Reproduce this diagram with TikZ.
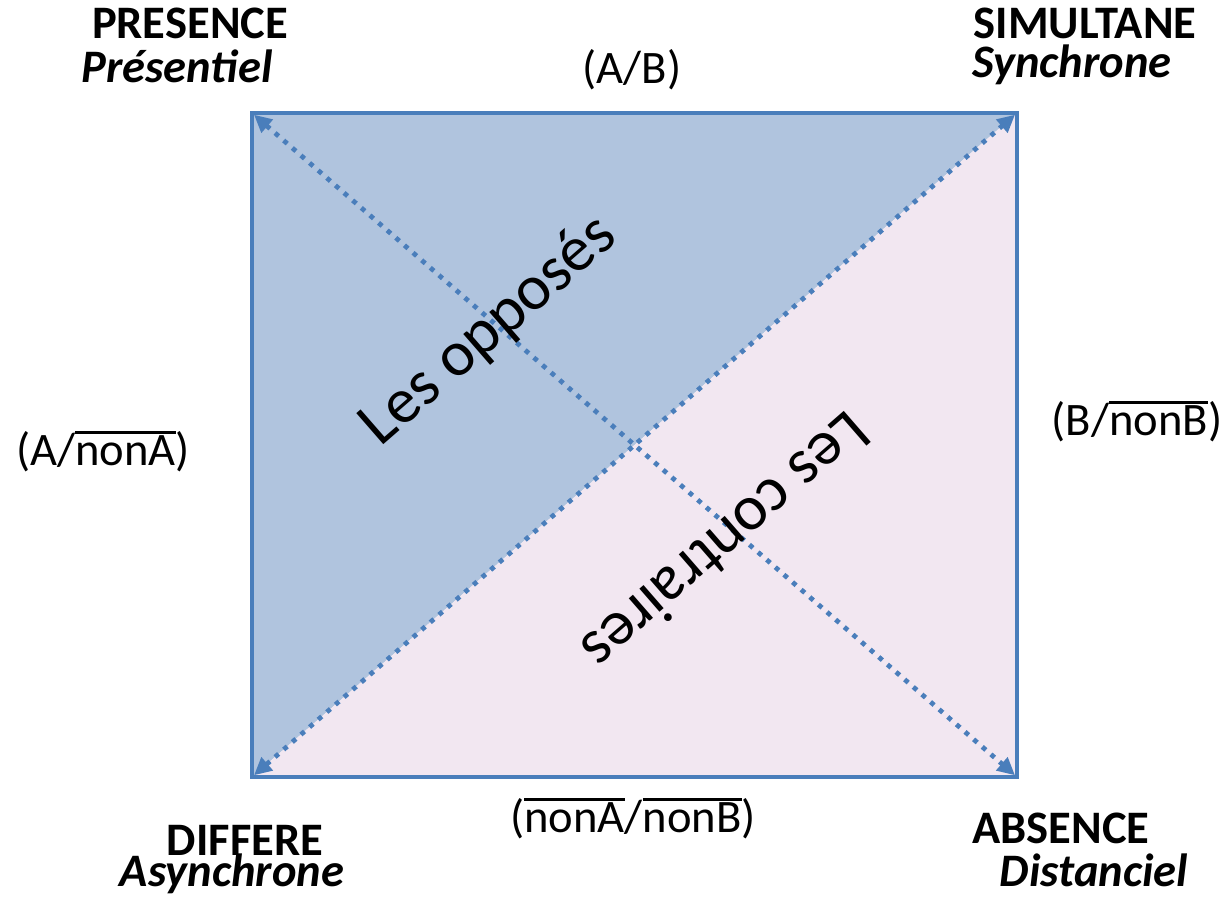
\documentclass[tikz,border=0pt]{standalone}
\usepackage{fontspec}
\setmainfont{Carlito}
\usetikzlibrary{positioning, arrows.meta}
\definecolor{bleucadre}{RGB}{74,126,187}
\definecolor{bleufond}{RGB}{176,196,222}
\definecolor{rosefond}{RGB}{242,231,241}
\newcommand{\barre}[1]{\setbox0\hbox{#1}\rlap{\rule[0.66em]{\wd0}{2pt}}\box0}
\tikzset{
  coin/.style={
    font=\fontsize{26.5}{25}\selectfont\bfseries,
    inner sep=0pt,
    anchor=base
  },
  coinit/.style={
    font=\fontsize{26.5}{25}\selectfont\bfseries\itshape,
    inner sep=0pt,
    anchor=base
  },
  etiquette/.style={
    font=\fontsize{26.5}{25}\selectfont,
    inner sep=0pt,
    anchor=base
  },
  grandtexte/.style={
    font=\fontsize{36.5}{40}\selectfont,
    inner sep=0pt
  },
  diagonale/.style={
    draw=bleucadre,
    line width=2.7pt,
    dash pattern=on 2.7pt off 3.8pt,
    shorten <=1.5pt, shorten >=1.5pt,
    {Triangle[length=10pt,width=9.5pt]}-{Triangle[length=10pt,width=9.5pt]}
  }
}
\begin{document}
\begin{tikzpicture}[x=0.02cm, y=-0.02cm]
  \useasboundingbox (0,0) rectangle (1228,899);
  \coordinate (hg) at (252,113);
  \coordinate (hd) at (1017,113);
  \coordinate (bd) at (1017,777);
  \coordinate (bg) at (252,777);

  % Triangles
  \fill[bleufond] (hg) -- (hd) -- (bg) -- cycle;
  \fill[rosefond] (hd) -- (bd) -- (bg) -- cycle;
  \draw[bleucadre, line width=2.3pt] (hg) rectangle (bd);

  % Diagonales
  \draw[diagonale] (hg) -- (bd);
  \draw[diagonale] (bg) -- (hd);

  \node[grandtexte, rotate=41] (opposes) at (489,331) {Les opposés};
  \node[grandtexte, rotate=221] (contraires) at (727,543) {Les contraires};

  % Coins
  \node[coin] (presence) at (190,38) {PRESENCE};
  \node[coinit] (presentiel) at (177,82) {Présentiel};
  \node[coin] (simultane) at (1085,38) {SIMULTANE};
  \node[coinit] (synchrone) at (1072,77) {Synchrone};
  \node[coin] (differe) at (245,855) {DIFFERE};
  \node[coinit] (asynchrone) at (232,886) {Asynchrone};
  \node[coin] (absence) at (1061,843) {ABSENCE};
  \node[coinit] (distanciel) at (1094,886) {Distanciel};

  % Relations
  \node[etiquette] (ab) at (632,83) {(A/B)};
  \node[etiquette] (anona) at (103,465) {(A/\barre{nonA})};
  \node[etiquette] (bnonb) at (1137,435) {(B/\barre{nonB})};
  \node[etiquette] (nonanonb) at (633,832) {(\barre{nonA}/\barre{nonB})};
\end{tikzpicture}
\end{document}
